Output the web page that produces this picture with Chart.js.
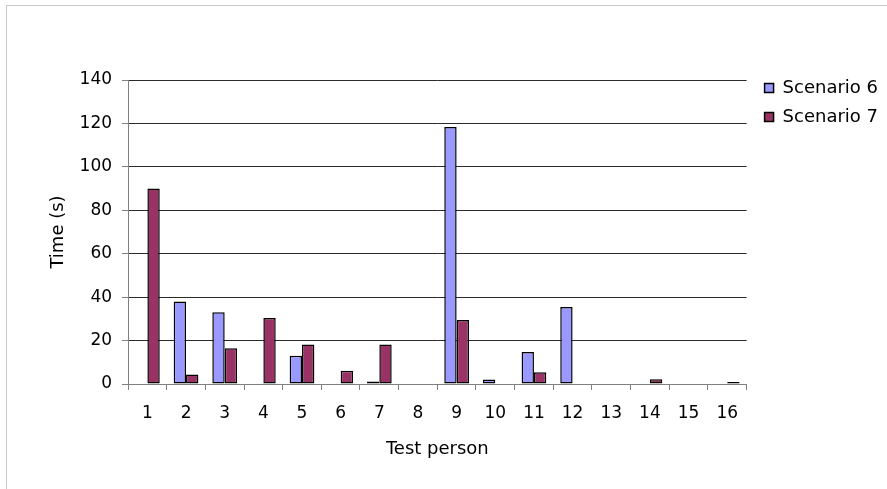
<!DOCTYPE html>
<html>
<head>
<meta charset="utf-8">
<script src="https://cdn.jsdelivr.net/npm/chart.js@4/dist/chart.umd.min.js"></script>
<style>
  html, body { margin: 0; padding: 0; background: #ffffff; }
  #wrap { position: relative; width: 887px; height: 489px; overflow: hidden; }
  #frame { position: absolute; left: 6px; top: 5px; width: 1000px; height: 1000px;
           border-top: 1px solid #c8c8c8; border-left: 1px solid #c8c8c8; }
  #chart { position: absolute; left: 0; top: 0; }
</style>
</head>
<body>
<div id="wrap">
  <div id="frame"></div>
  <canvas id="chart" width="887" height="489"></canvas>
</div>
<script>
// Time per test person for the two scenarios
const persons = ['1','2','3','4','5','6','7','8','9','10','11','12','13','14','15','16'];
const scenario6 = [0, 38, 33, 0, 13, 0, 1.2, 0, 118.4, 2.1, 14.7, 35.5, 0, 0, 0, 0];
const scenario7 = [90, 4.4, 16.5, 30.4, 18.2, 6.1, 18.2, 0, 29.5, 0, 5.4, 0, 0, 2.2, 0, 0.9];
const yMin = 0, yMax = 140, yStep = 20;

const FAMILY = '"DejaVu Sans", Verdana, sans-serif';
const TICK_FONT = { family: FAMILY, size: 17 };
const TEXT_FONT = { family: FAMILY, size: 18 };

// Places the legend just right of the plot, level with its top line
const legendPlacement = {
  id: 'legendPlacement',
  afterLayout(chart) {
    const lg = chart.legend, area = chart.chartArea;
    const w = lg.right - lg.left, h = lg.bottom - lg.top;
    lg.left = area.right + 7;
    lg.right = lg.left + w;
    lg.top = area.top - 12;
    lg.bottom = lg.top + h;
  }
};

new Chart(document.getElementById('chart'), {
  type: 'bar',
  data: {
    labels: persons,
    datasets: [
      { label: 'Scenario 6', data: scenario6, backgroundColor: '#9999ff',
        borderColor: '#000000', borderWidth: 1.5, borderSkipped: false },
      { label: 'Scenario 7', data: scenario7, backgroundColor: '#993366',
        borderColor: '#000000', borderWidth: 1.5, borderSkipped: false }
    ]
  },
  plugins: [legendPlacement],
  options: {
    responsive: false,
    animation: false,
    devicePixelRatio: 1,
    layout: { padding: { left: 47, top: 80, right: 6, bottom: 29 } },
    datasets: { bar: { categoryPercentage: 0.64, barPercentage: 1.0 } },
    plugins: {
      tooltip: { enabled: false },
      legend: {
        position: 'right',
        align: 'start',
        labels: { font: TEXT_FONT, color: '#000000', boxWidth: 9, boxHeight: 9, padding: 11 }
      }
    },
    scales: {
      x: {
        offset: true,
        grid: { display: true, drawOnChartArea: false, offset: true, tickLength: 6,
                tickColor: '#808080', tickWidth: 1 },
        border: { display: true, color: '#808080', width: 1 },
        ticks: { font: TICK_FONT, color: '#000000', padding: 13, maxRotation: 0 },
        title: { display: true, text: 'Test person', font: TEXT_FONT, color: '#000000',
                 padding: { top: 2, bottom: 0 } }
      },
      y: {
        min: yMin, max: yMax,
        grid: { color: '#2a2a2a', lineWidth: 1, tickLength: 6, tickColor: '#808080' },
        border: { display: true, color: '#808080', width: 1 },
        ticks: { stepSize: yStep, font: TICK_FONT, color: '#000000', padding: 10 },
        title: { display: true, text: 'Time (s)', font: TEXT_FONT, color: '#000000',
                 padding: { top: 1, bottom: 0 } }
      }
    }
  }
});
</script>
</body>
</html>
